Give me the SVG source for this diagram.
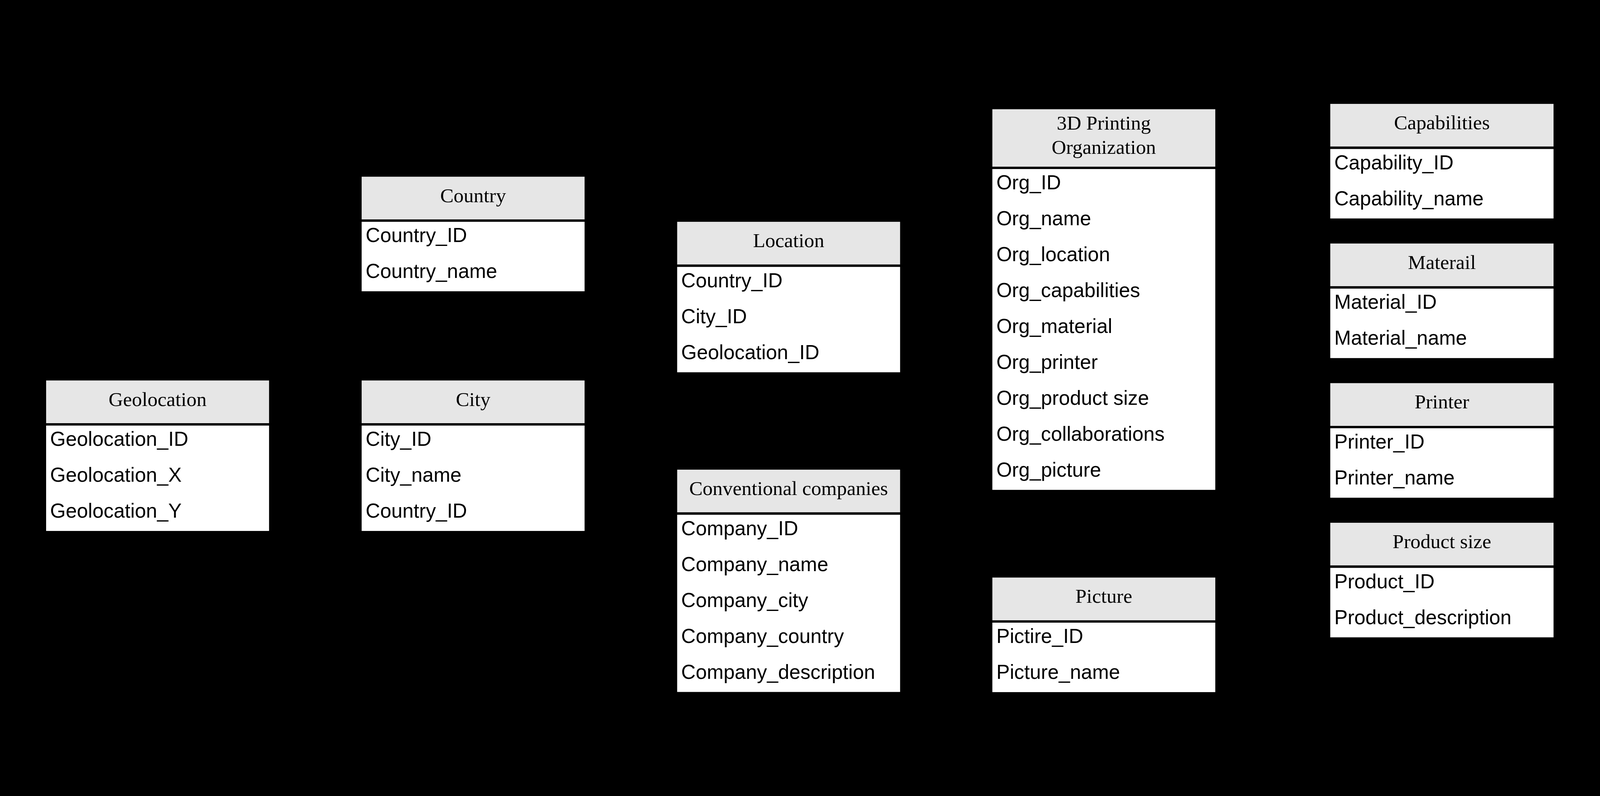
<svg xmlns="http://www.w3.org/2000/svg" width="4787" height="2039" viewBox="0 0 4787 2039" style="width:100vw;height:100vh;background:#000000">
<style>
.hdr{fill:#e6e6e6}
.body{fill:#ffffff}
.sep{stroke:#000000;stroke-width:7}
.title{font-family:"Liberation Serif","Times New Roman",serif;font-size:60px;fill:#000000;text-anchor:middle}
.row{font-family:"Liberation Sans",Arial,sans-serif;font-size:60px;fill:#000000}
</style>
<rect x="0" y="0" width="4787" height="2039" fill="#000000"/>
<g id="connectors"/>

<g id="geolocation">
<rect class="hdr" x="138" y="967" width="667" height="128"/>
<line class="sep" x1="138" y1="1098.5" x2="805" y2="1098.5"/>
<rect class="body" x="138" y="1102" width="667" height="315.5"/>
<text class="title" x="471.5" y="1043">Geolocation</text>
<text class="row" x="150" y="1163">Geolocation_ID</text>
<text class="row" x="150" y="1270.5">Geolocation_X</text>
<text class="row" x="150" y="1378">Geolocation_Y</text>
</g>

<g id="country">
<rect class="hdr" x="1082" y="357" width="667" height="128"/>
<line class="sep" x1="1082" y1="488.5" x2="1749" y2="488.5"/>
<rect class="body" x="1082" y="492" width="667" height="208"/>
<text class="title" x="1415.5" y="433">Country</text>
<text class="row" x="1094" y="553">Country_ID</text>
<text class="row" x="1094" y="660.5">Country_name</text>
</g>

<g id="city">
<rect class="hdr" x="1082" y="967" width="667" height="128"/>
<line class="sep" x1="1082" y1="1098.5" x2="1749" y2="1098.5"/>
<rect class="body" x="1082" y="1102" width="667" height="315.5"/>
<text class="title" x="1415.5" y="1043">City</text>
<text class="row" x="1094" y="1163">City_ID</text>
<text class="row" x="1094" y="1270.5">City_name</text>
<text class="row" x="1094" y="1378">Country_ID</text>
</g>

<g id="location">
<rect class="hdr" x="2026" y="492" width="667" height="128"/>
<line class="sep" x1="2026" y1="623.5" x2="2693" y2="623.5"/>
<rect class="body" x="2026" y="627" width="667" height="315.5"/>
<text class="title" x="2359.5" y="568">Location</text>
<text class="row" x="2038" y="688">Country_ID</text>
<text class="row" x="2038" y="795.5">City_ID</text>
<text class="row" x="2038" y="903">Geolocation_ID</text>
</g>

<g id="conventional-companies">
<rect class="hdr" x="2026" y="1234" width="667" height="128"/>
<line class="sep" x1="2026" y1="1365.5" x2="2693" y2="1365.5"/>
<rect class="body" x="2026" y="1369" width="667" height="530.5"/>
<text class="title" x="2359.5" y="1310">Conventional companies</text>
<text class="row" x="2038" y="1430">Company_ID</text>
<text class="row" x="2038" y="1537.5">Company_name</text>
<text class="row" x="2038" y="1645">Company_city</text>
<text class="row" x="2038" y="1752.5">Company_country</text>
<text class="row" x="2038" y="1860">Company_description</text>
</g>

<g id="printing-organization">
<rect class="hdr" x="2969" y="155" width="667" height="172"/>
<line class="sep" x1="2969" y1="330.5" x2="3636" y2="330.5"/>
<rect class="body" x="2969" y="334" width="667" height="960.5"/>
<text class="title" x="3302.5" y="216">3D Printing</text>
<text class="title" x="3302.5" y="289">Organization</text>
<text class="row" x="2981" y="395">Org_ID</text>
<text class="row" x="2981" y="502.5">Org_name</text>
<text class="row" x="2981" y="610">Org_location</text>
<text class="row" x="2981" y="717.5">Org_capabilities</text>
<text class="row" x="2981" y="825">Org_material</text>
<text class="row" x="2981" y="932.5">Org_printer</text>
<text class="row" x="2981" y="1040">Org_product size</text>
<text class="row" x="2981" y="1147.5">Org_collaborations</text>
<text class="row" x="2981" y="1255">Org_picture</text>
</g>

<g id="picture">
<rect class="hdr" x="2969" y="1557" width="667" height="128"/>
<line class="sep" x1="2969" y1="1688.5" x2="3636" y2="1688.5"/>
<rect class="body" x="2969" y="1692" width="667" height="208"/>
<text class="title" x="3302.5" y="1633">Picture</text>
<text class="row" x="2981" y="1753">Pictire_ID</text>
<text class="row" x="2981" y="1860.5">Picture_name</text>
</g>

<g id="capabilities">
<rect class="hdr" x="3980" y="139" width="668" height="128"/>
<line class="sep" x1="3980" y1="270.5" x2="4648" y2="270.5"/>
<rect class="body" x="3980" y="274" width="668" height="208"/>
<text class="title" x="4314" y="215">Capabilities</text>
<text class="row" x="3992" y="335">Capability_ID</text>
<text class="row" x="3992" y="442.5">Capability_name</text>
</g>

<g id="materail">
<rect class="hdr" x="3980" y="557" width="668" height="128"/>
<line class="sep" x1="3980" y1="688.5" x2="4648" y2="688.5"/>
<rect class="body" x="3980" y="692" width="668" height="208"/>
<text class="title" x="4314" y="633">Materail</text>
<text class="row" x="3992" y="753">Material_ID</text>
<text class="row" x="3992" y="860.5">Material_name</text>
</g>

<g id="printer">
<rect class="hdr" x="3980" y="975" width="668" height="128"/>
<line class="sep" x1="3980" y1="1106.5" x2="4648" y2="1106.5"/>
<rect class="body" x="3980" y="1110" width="668" height="208"/>
<text class="title" x="4314" y="1051">Printer</text>
<text class="row" x="3992" y="1171">Printer_ID</text>
<text class="row" x="3992" y="1278.5">Printer_name</text>
</g>

<g id="product-size">
<rect class="hdr" x="3980" y="1393" width="668" height="128"/>
<line class="sep" x1="3980" y1="1524.5" x2="4648" y2="1524.5"/>
<rect class="body" x="3980" y="1528" width="668" height="208"/>
<text class="title" x="4314" y="1469">Product size</text>
<text class="row" x="3992" y="1589">Product_ID</text>
<text class="row" x="3992" y="1696.5">Product_description</text>
</g>
</svg>
